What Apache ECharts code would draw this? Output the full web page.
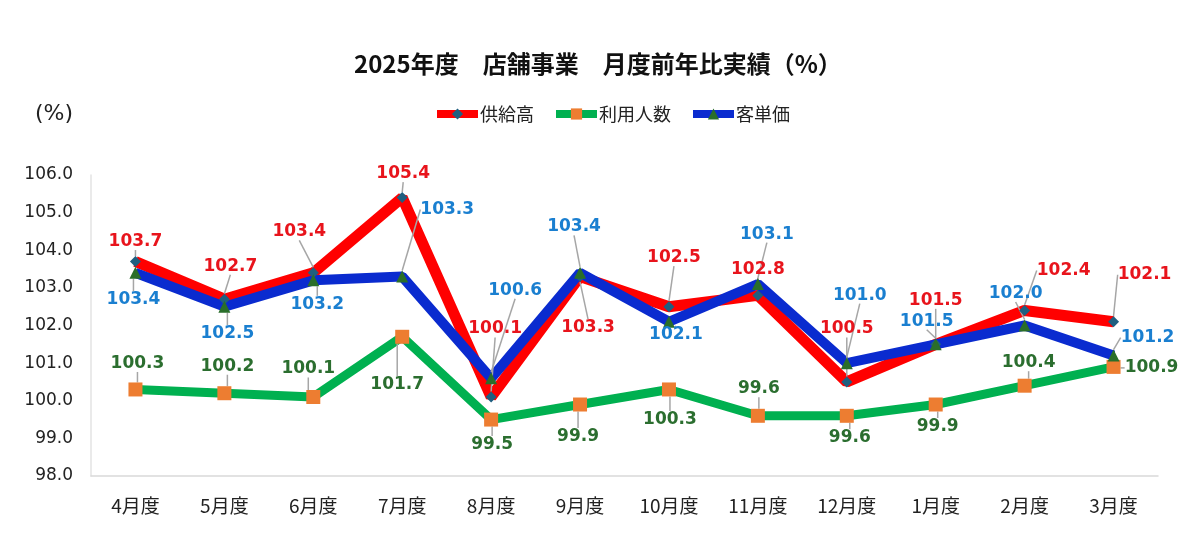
<!DOCTYPE html>
<html>
<head>
<meta charset="utf-8">
<script src="https://cdn.jsdelivr.net/npm/echarts@6/dist/echarts.min.js"></script>
<style>
  html, body { margin: 0; padding: 0; background: #fff; }
  #chart { width: 1200px; height: 536px; }
</style>
</head>
<body>
<div id="chart"></div>
<script>
// 月度
const months = ['4月度', '5月度', '6月度', '7月度', '8月度', '9月度', '10月度', '11月度', '12月度', '1月度', '2月度', '3月度']
// 前年比 (%)
const kyokyudaka = [103.7, 102.7, 103.4, 105.4, 100.1, 103.3, 102.5, 102.8, 100.5, 101.5, 102.4, 102.1]
const riyoNinzu = [100.3, 100.2, 100.1, 101.7, 99.5, 99.9, 100.3, 99.6, 99.6, 99.9, 100.4, 100.9]
const kyakutanka = [103.4, 102.5, 103.2, 103.3, 100.6, 103.4, 102.1, 103.1, 101.0, 101.5, 102.0, 101.2]
const yTicks = [98, 99, 100, 101, 102, 103, 104, 105, 106]

// label shifts (px) from each point, per series
const labelShift = [
  [[0, -20], [6, -33], [-14, -41], [1, -24], [4, -68], [8, 51], [5, -49], [0, -26], [0, -53], [0, -44], [39, -40], [31, -47]],
  [[2, -26], [3, -27], [-5, -28], [-5, 48], [1, 25], [-2, 32], [1, 30], [1, -27], [3, 22], [2, 22], [4, -23], [38, 1]],
  [[-2, 27], [3, 27], [4, 24], [45, -67], [24, -88], [-6, -46], [7, 13], [9, -50], [13, -68], [-9, -23], [-9, -32], [34, -18]]
]

const chart = echarts.init(document.getElementById('chart'))

function makeSeries(name, values, idx, lineColor, lineWidth, symbol, symbolSize, symbolColor, labelColor) {
  return {
    name: name,
    type: 'line',
    data: values,
    symbol: symbol,
    symbolSize: symbolSize,
    lineStyle: { color: lineColor, width: lineWidth },
    itemStyle: { color: symbolColor },
    label: {
      show: true,
      position: 'inside',
      color: labelColor,
      fontFamily: 'DejaVu Sans',
      fontWeight: 'bold',
      fontSize: 17,
      formatter: p => p.value.toFixed(1)
    },
    labelLine: {
      show: true,
      lineStyle: { color: '#a6a6a6', width: 1.5 }
    },
    labelLayout: p => ({ dx: labelShift[idx][p.dataIndex][0], dy: labelShift[idx][p.dataIndex][1] }),
    animation: false
  }
}

chart.setOption({
  backgroundColor: '#fff',
  title: {
    text: '2025年度　店舗事業　月度前年比実績（%）',
    left: 349,
    top: 47,
    textStyle: {
      fontFamily: 'Noto Sans CJK JP',
      fontSize: 24,
      fontWeight: 'bold',
      color: '#111'
    }
  },
  legend: {
    top: 100,
    left: 428,
    itemWidth: 41,
    itemHeight: 14,
    itemGap: 18,
    lineStyle: { width: 8 },
    textStyle: {
      fontFamily: 'Noto Sans CJK JP',
      fontSize: 18,
      color: '#222',
      padding: [0, 0, 0, -3]
    },
    data: ['供給高', '利用人数', '客単価']
  },
  graphic: [{
    type: 'text',
    left: 35,
    top: 103,
    style: {
      text: '(%)',
      fontFamily: 'DejaVu Sans',
      fontSize: 22,
      fill: '#222'
    }
  }],
  grid: {
    left: 91,
    right: 42,
    top: 175,
    bottom: 60
  },
  xAxis: {
    type: 'category',
    data: months,
    axisLine: { lineStyle: { color: '#d9d9d9', width: 1.5 } },
    axisTick: { show: false },
    axisLabel: {
      margin: 20,
      fontFamily: 'Noto Sans CJK JP',
      fontSize: 19,
      color: '#222'
    }
  },
  yAxis: {
    type: 'value',
    min: yTicks[0],
    max: yTicks[yTicks.length - 1],
    interval: 1,
    axisLine: { show: true, lineStyle: { color: '#e3e3e3', width: 1.5 } },
    axisTick: { show: false },
    splitLine: { show: false },
    axisLabel: {
      margin: 18,
      fontFamily: 'DejaVu Sans',
      fontSize: 17,
      color: '#222',
      formatter: v => v.toFixed(1)
    }
  },
  series: [
    makeSeries('供給高', kyokyudaka, 0, '#ff0000', 11, 'diamond', 11, '#1f5f80', '#e8141c'),
    makeSeries('利用人数', riyoNinzu, 1, '#00b050', 9, 'rect', 14, '#ed7d31', '#2b6e2f'),
    makeSeries('客単価', kyakutanka, 2, '#0a2bcf', 10, 'triangle', 12, '#2a6e2a', '#1a7fd0')
  ]
})
</script>
</body>
</html>
